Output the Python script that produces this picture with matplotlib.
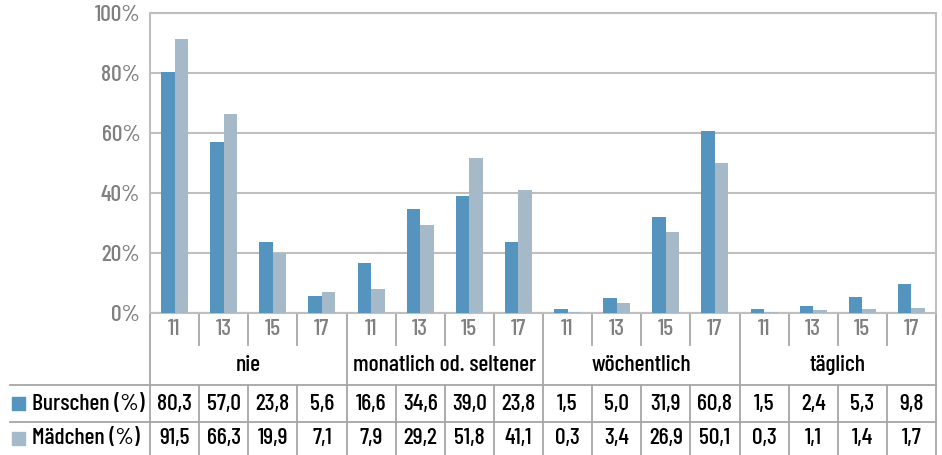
import numpy as np
import matplotlib.pyplot as plt
from matplotlib.patches import Rectangle

plt.rcParams['font.family'] = ['Barlow Condensed', 'DejaVu Sans']
plt.rcParams['font.weight'] = 500

groups = ['nie', 'monatlich od. seltener', 'wöchentlich', 'täglich']
ages = ['11', '13', '15', '17']
burschen = [80.3, 57.0, 23.8, 5.6, 16.6, 34.6, 39.0, 23.8, 1.5, 5.0, 31.9, 60.8, 1.5, 2.4, 5.3, 9.8]
maedchen = [91.5, 66.3, 19.9, 7.1, 7.9, 29.2, 51.8, 41.1, 0.3, 3.4, 26.9, 50.1, 0.3, 1.1, 1.4, 1.7]
series_names = ['Burschen (%)', 'Mädchen (%)']

blue = '#5494bf'
light = '#a6b9c9'
grid_c = '#bfbfbf'
line_c = '#a6a6a6'
tick_c = '#808080'
fs = 17

W, H = 942, 455
fig = plt.figure(figsize=(W / 100, H / 100), dpi=100)
# axes in pixel units: left 150, right 936, top 13, bottom 313
ax = fig.add_axes([150 / W, (H - 313) / H, 786 / W, 300 / H])

n = len(burschen)
x = np.arange(n)
bw = 0.275
ax.bar(x - bw / 2, burschen, bw, color=blue, zorder=3)
ax.bar(x + bw / 2, maedchen, bw, color=light, zorder=3)

ax.set_xlim(-0.5, n - 0.5)
ax.set_ylim(0, 100)
ax.set_yticks(range(0, 101, 20))
ax.set_yticklabels([f'{v}%' for v in range(0, 101, 20)], color=tick_c, fontsize=fs)
ax.yaxis.grid(True, color=grid_c, linewidth=1.5, zorder=0)
ax.tick_params(axis='y', length=0, pad=7)
ax.set_xticks(x, ages * len(groups))
ax.tick_params(axis='x', length=0, pad=4, labelcolor=tick_c, labelsize=fs)
for s in ax.spines.values():
    s.set_color(grid_c)
    s.set_linewidth(1.5)

tr = ax.get_xaxis_transform()
px = lambda p: -0.5 + (p - 150) / (786 / n)  # pixel x -> data x
py = lambda p: (313 - p) / 300               # pixel y -> axes y

y_tick_bot, y_grp_bot, y_r1_bot, y_r2_bot = py(345), py(385), py(422), py(470)
kw = dict(transform=tr, clip_on=False, color=line_c, linewidth=1.3)

# separators inside the age row and the data rows
for i in range(1, n):
    if i % 4 == 0:
        ax.plot([i - 0.5, i - 0.5], [0, y_r2_bot], **kw)
    else:
        ax.plot([i - 0.5, i - 0.5], [0, y_tick_bot], **kw)
        ax.plot([i - 0.5, i - 0.5], [y_grp_bot, y_r2_bot], **kw)
ax.plot([-0.5, -0.5], [0, y_r2_bot], **kw)
ax.plot([n - 0.5, n - 0.5], [0, y_r2_bot], **kw)
for yy in (y_grp_bot, y_r1_bot):
    ax.plot([px(10), n - 0.5], [yy, yy], **kw)

# group labels
for g, name in enumerate(groups):
    ax.text(g * 4 + 1.5, (y_tick_bot + y_grp_bot) / 2, name, transform=tr,
            ha='center', va='center', fontsize=fs, color='black')

# data rows
rows = [burschen, maedchen]
row_mid = [(y_grp_bot + y_r1_bot) / 2, (y_r1_bot + py(455)) / 2]
for vals, name, col, ym in zip(rows, series_names, [blue, light], row_mid):
    ax.add_patch(Rectangle((px(12), ym - 0.022), px(25) - px(12), 0.044,
                           transform=tr, clip_on=False, color=col))
    ax.text(px(32), ym, name, transform=tr, ha='left', va='center',
            fontsize=fs, color='black')
    for i, v in enumerate(vals):
        ax.text(i, ym, f'{v:.1f}'.replace('.', ','), transform=tr,
                ha='center', va='center', fontsize=fs, color='black')

fig.savefig('out.png', dpi=100)
